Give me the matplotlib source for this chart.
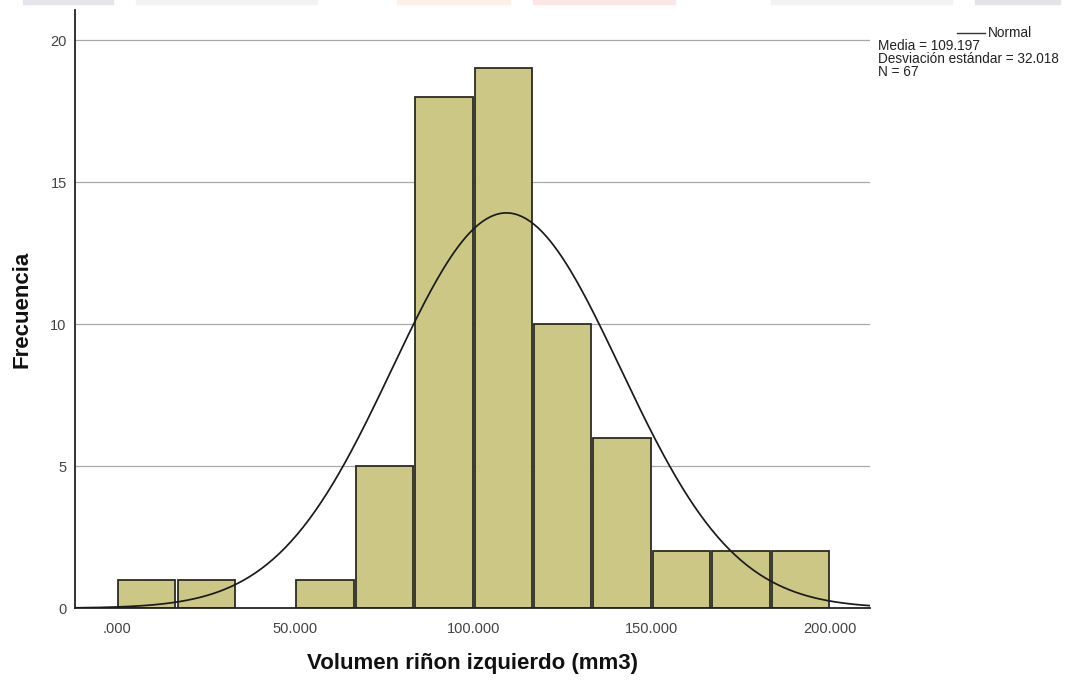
import numpy as np
import matplotlib
matplotlib.use("Agg")
import matplotlib.pyplot as plt
from matplotlib.patches import Rectangle

plt.rcParams['font.family'] = ['Liberation Sans', 'DejaVu Sans']

# Histogram of left kidney volume (12 bins from 0 to 200)
bin_edges = np.linspace(0, 200, 13)
counts = [1, 1, 0, 1, 5, 18, 19, 10, 6, 2, 2, 2]
mean = 109.197
std = 32.018
n = 67

xticks = [0, 50, 100, 150, 200]
xtick_labels = [".000", "50.000", "100.000", "150.000", "200.000"]
yticks = [0, 5, 10, 15, 20]

bar_color = "#ccc785"
edge_color = "#2b2b22"

fig = plt.figure(figsize=(10.89, 6.81), dpi=100)

# faint banner strips along the top edge
strips = [(23, 113, "#e4e4ea"), (136, 317, "#f3f3f6"), (397, 510, "#fdf0e6"),
          (533, 675, "#fbe6e6"), (771, 952, "#f3f3f6"), (975, 1060, "#e4e4e8")]
for x0, x1, c in strips:
    fig.patches.append(Rectangle((x0 / 1089, 1 - 4 / 681), (x1 - x0) / 1089, 4 / 681,
                                 transform=fig.transFigure, color=c, zorder=0))

ax = fig.add_axes([0.0689, 0.107, 0.7300, 0.878])

width = bin_edges[1] - bin_edges[0]
for left, c in zip(bin_edges[:-1], counts):
    if c == 0:
        continue
    ax.bar(left + width / 2, c, width=width * 0.965, color=bar_color,
           edgecolor=edge_color, linewidth=1.3, zorder=2)

# normal curve scaled to the histogram
xs = np.linspace(-11.5, 211.5, 400)
ys = n * width * np.exp(-0.5 * ((xs - mean) / std) ** 2) / (std * np.sqrt(2 * np.pi))
ax.plot(xs, ys, color="#1a1a1a", linewidth=1.25, zorder=3)

ax.set_xlim(-11.8, 211.2)
ax.set_ylim(0, 21.05)

for y in yticks[1:]:
    ax.axhline(y, color="#a8a8a8", linewidth=0.9, zorder=1)

ax.set_xticks(xticks)
ax.set_xticklabels(xtick_labels)
ax.set_yticks(yticks)
ax.tick_params(length=0, labelsize=10.5, colors="#444444")
ax.tick_params(axis='x', pad=10)
ax.tick_params(axis='y', pad=6)

for side in ["top", "right"]:
    ax.spines[side].set_visible(False)
for side in ["left", "bottom"]:
    ax.spines[side].set_color("#222222")
    ax.spines[side].set_linewidth(1.3)

ax.set_xlabel("Volumen riñon izquierdo (mm3)", fontsize=16, fontweight="bold",
              labelpad=12, color="#111111")
ax.set_ylabel("Frecuencia", fontsize=16, fontweight="bold", labelpad=13,
              color="#111111")

# legend and summary statistics
fig.lines.append(plt.Line2D([957 / 1089, 985 / 1089], [1 - 33 / 681, 1 - 33 / 681],
                            transform=fig.transFigure, color="#333333", linewidth=1))
stats_font = 9.8
fig.text(988 / 1089, 1 - 33 / 681, "Normal", fontsize=stats_font, va="center",
         color="#222222")
fig.text(878 / 1089, 1 - 46 / 681, "Media = 109.197", fontsize=stats_font,
         va="center", color="#222222")
fig.text(878 / 1089, 1 - 59 / 681, "Desviación estándar = 32.018",
         fontsize=stats_font, va="center", color="#222222")
fig.text(878 / 1089, 1 - 71.5 / 681, "N = 67", fontsize=stats_font, va="center",
         color="#222222")

fig.savefig("out.png", dpi=100)
